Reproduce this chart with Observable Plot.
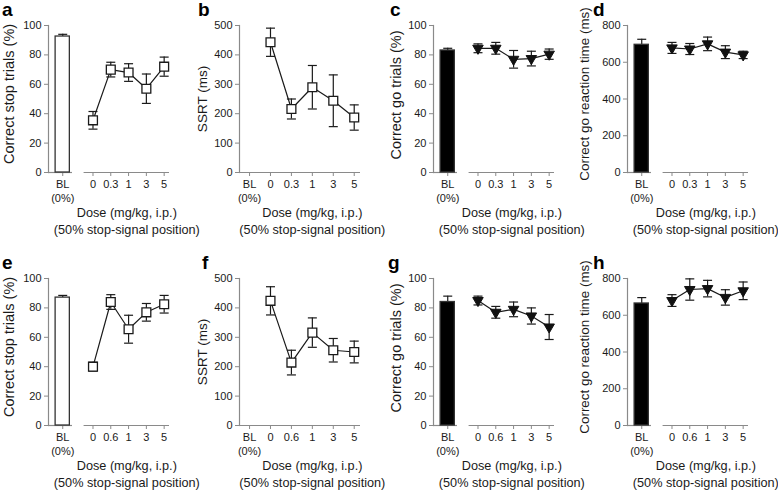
<!DOCTYPE html>
<html><head><meta charset="utf-8">
<script src="https://cdn.jsdelivr.net/npm/d3@7"></script>
<script src="https://cdn.jsdelivr.net/npm/@observablehq/plot@0.6"></script>
<style>
body{margin:0;background:#fff;}
#fig{position:relative;width:778px;height:491px;overflow:hidden;font-family:"Liberation Sans",Arial,sans-serif;background:#fff;}
.panel{position:absolute;}
.letter{position:absolute;font-weight:bold;font-size:19px;line-height:19px;color:#000;font-family:"Liberation Sans",Arial,sans-serif;}
</style></head><body><div id="fig"></div>
<script>
// ---- categories / labels ----
const dosesRow1 = ["0", "0.3", "1", "3", "5"];
const dosesRow2 = ["0", "0.6", "1", "3", "5"];
const baselineLabel = "BL\n(0%)";
const doseCaption = "Dose (mg/kg, i.p.)\n(50% stop-signal position)";
const panelLetters = ["a", "b", "c", "d", "e", "f", "g", "h"];
const yLabelStop = "Correct stop trials (%)";
const yLabelSSRT = "SSRT (ms)";
const yLabelGo = "Correct go trials (%)";
const yLabelRT = "Correct go reaction time (ms)";

// ---- values (mean, error) ----
const stopA = [35.5, 70, 68, 57, 72];
const stopAErr = [6, 5, 6, 10, 6.5];
const stopABL = 92.5, stopABLErr = 1.5;

const ssrtB = [443, 216, 290, 244, 187];
const ssrtBErr = [48, 34, 74, 88, 43];

const goC = [84.5, 84.5, 77, 77.5, 80.5];
const goCErr = [3, 4, 6, 5, 3.5];
const goCBL = 83, goCBLErr = 1.5;

const rtD = [678, 672, 700, 655, 640];
const rtDErr = [30, 30, 37, 35, 20];
const rtDBL = 695, rtDBLErr = 30;

const stopE = [40, 84, 65.5, 77, 82.5];
const stopEErr = [3, 5, 9.5, 6, 6];
const stopEBL = 87, stopEBLErr = 1.5;

const ssrtF = [424, 214, 316, 256, 250];
const ssrtFErr = [48, 42, 50, 40, 37];

const goG = [85, 77, 79, 74.5, 67];
const goGErr = [3, 4, 5, 5.5, 8.5];
const goGBL = 84, goGBLErr = 4;

const rtH = [680, 740, 745, 697, 733];
const rtHErr = [32, 58, 45, 42, 48];
const rtHBL = 664, rtHBLErr = 32;

// ---- panel configuration ----
const panels = [
  {doses: dosesRow1, mean: stopA, err: stopAErr, bl: stopABL, blErr: stopABLErr, yLabel: yLabelStop, yMax: 100, yStep: 20, barFill: "white", marker: "square"},
  {doses: dosesRow1, mean: ssrtB, err: ssrtBErr, bl: null, yLabel: yLabelSSRT, yMax: 500, yStep: 100, marker: "square"},
  {doses: dosesRow1, mean: goC, err: goCErr, bl: goCBL, blErr: goCBLErr, yLabel: yLabelGo, yMax: 100, yStep: 20, barFill: "black", marker: "tri"},
  {doses: dosesRow1, mean: rtD, err: rtDErr, bl: rtDBL, blErr: rtDBLErr, yLabel: yLabelRT, yMax: 800, yStep: 200, barFill: "black", marker: "tri"},
  {doses: dosesRow2, mean: stopE, err: stopEErr, bl: stopEBL, blErr: stopEBLErr, yLabel: yLabelStop, yMax: 100, yStep: 20, barFill: "white", marker: "square"},
  {doses: dosesRow2, mean: ssrtF, err: ssrtFErr, bl: null, yLabel: yLabelSSRT, yMax: 500, yStep: 100, marker: "square"},
  {doses: dosesRow2, mean: goG, err: goGErr, bl: goGBL, blErr: goGBLErr, yLabel: yLabelGo, yMax: 100, yStep: 20, barFill: "black", marker: "tri"},
  {doses: dosesRow2, mean: rtH, err: rtHErr, bl: rtHBL, blErr: rtHBLErr, yLabel: yLabelRT, yMax: 800, yStep: 200, barFill: "black", marker: "tri"}
];

// ---- layout ----
const colLeft = [0, 191, 385, 579];
const rowTop = [0, 253];
const labelOffsetCol = [39, 36.5, 37, 42.5];
const labelSizeCol = [14.5, 13.5, 14.5, 13.4];
const labelShiftCol = [-5, 0, -4, -5];
const letterOffset = [[2, 4], [7, 4], [5, 4], [14, 4], [2, 4], [11, 4], [3, 4], [14, 4]];
const axisGray = "#8a8a8a";
const ink = "#1a1a1a";

const capSymbol = {draw(ctx, size) { const w = Math.sqrt(size / Math.PI); ctx.moveTo(-w, 0); ctx.lineTo(w, 0); }};

function makePanel(cfg, col) {
  const hasBar = cfg.bl != null;
  const blPos = hasBar ? -1.7 : -1;
  const xDomain = hasBar ? [-2.5, 4.3] : [-1.48, 4.3];
  const pts = cfg.doses.map((lab, i) => ({pos: i, v: cfg.mean[i], e: cfg.err[i]}));
  const bl = hasBar ? [{pos: blPos, v: cfg.bl, e: cfg.blErr}] : [];
  const tickPos = [blPos, ...pts.map(p => p.pos)];
  const tickLab = new Map(tickPos.map((p, i) => [p, i === 0 ? baselineLabel : cfg.doses[i - 1]]));
  const segs = hasBar ? [[xDomain[0], -1.15], [-0.5, xDomain[1]]] : [[xDomain[0], xDomain[1]]];
  const captionX = hasBar ? 1.9 : 2;

  const markerMark = cfg.marker === "square"
    ? Plot.dot(pts, {x: "pos", y: "v", symbol: "square", r: 5, fill: "white", stroke: ink, strokeWidth: 1.3})
    : Plot.dot(pts, {x: "pos", y: "v", symbol: "triangle", rotate: 180, r: 3.9, fill: "#111", stroke: "#111", strokeWidth: 1});

  return Plot.plot({
    width: 194, height: 238,
    marginLeft: 48, marginRight: 25, marginTop: 25, marginBottom: 66,
    style: {fontFamily: "'Liberation Sans', Arial, sans-serif", background: "transparent", overflow: "visible"},
    x: {domain: xDomain, axis: null},
    y: {domain: [0, cfg.yMax], axis: null},
    marks: [
      Plot.frame({anchor: "left", stroke: axisGray, strokeWidth: 1.2}),
      Plot.ruleY(segs, {x1: s => s[0], x2: s => s[1], y: 0, stroke: axisGray, strokeWidth: 1.2}),
      Plot.axisY({ticks: d3.range(0, cfg.yMax + 1, cfg.yStep), tickSize: 4, tickPadding: 3, stroke: axisGray, fill: ink, fontSize: 11, label: null}),
      Plot.axisX({ticks: tickPos, tickFormat: p => tickLab.get(p), tickSize: 4, tickPadding: 1, stroke: axisGray, fill: ink, fontSize: 11, lineHeight: 1.3, label: null}),
      Plot.text([cfg.yLabel], {text: d => d, frameAnchor: "left", textAnchor: "middle", rotate: -90, dx: -labelOffsetCol[col], dy: labelShiftCol[col], fontSize: labelSizeCol[col], fill: ink}),
      Plot.text([doseCaption], {text: d => d, x: captionX, frameAnchor: "bottom", dy: 33, lineAnchor: "top", lineHeight: 1.3, fontSize: 12.7, fill: ink}),
      // baseline bar error (upper only) and bar
      Plot.ruleX(bl, {x: "pos", y1: "v", y2: d => d.v + d.e, stroke: ink, strokeWidth: 1.2}),
      Plot.dot(bl, {x: "pos", y: d => d.v + d.e, symbol: capSymbol, r: 4.5, stroke: ink, strokeWidth: 1.2, fill: "none"}),
      Plot.rect(bl, {x1: d => d.pos - 0.4, x2: d => d.pos + 0.4, y1: 0, y2: "v", fill: cfg.barFill || "white", stroke: "#333", strokeWidth: 1.3}),
      // dose error bars
      Plot.ruleX(pts, {x: "pos", y1: d => d.v - d.e, y2: d => d.v + d.e, stroke: ink, strokeWidth: 1.2}),
      Plot.dot(pts, {x: "pos", y: d => d.v + d.e, symbol: capSymbol, r: 4.5, stroke: ink, strokeWidth: 1.2, fill: "none"}),
      Plot.dot(pts, {x: "pos", y: d => d.v - d.e, symbol: capSymbol, r: 4.5, stroke: ink, strokeWidth: 1.2, fill: "none"}),
      Plot.line(pts, {x: "pos", y: "v", stroke: ink, strokeWidth: 1.2}),
      markerMark
    ]
  });
}

const fig = document.getElementById("fig");
panels.forEach((cfg, i) => {
  const col = i % 4, row = Math.floor(i / 4);
  const wrap = document.createElement("div");
  wrap.className = "panel";
  wrap.style.left = colLeft[col] + "px";
  wrap.style.top = rowTop[row] + "px";
  wrap.appendChild(makePanel(cfg, col));
  fig.appendChild(wrap);
  const L = document.createElement("div");
  L.className = "letter";
  L.textContent = panelLetters[i];
  L.style.left = (colLeft[col] + letterOffset[i][0]) + "px";
  L.style.top = (rowTop[row] + letterOffset[i][1] - 4) + "px";
  fig.appendChild(L);
});
</script></body></html>
